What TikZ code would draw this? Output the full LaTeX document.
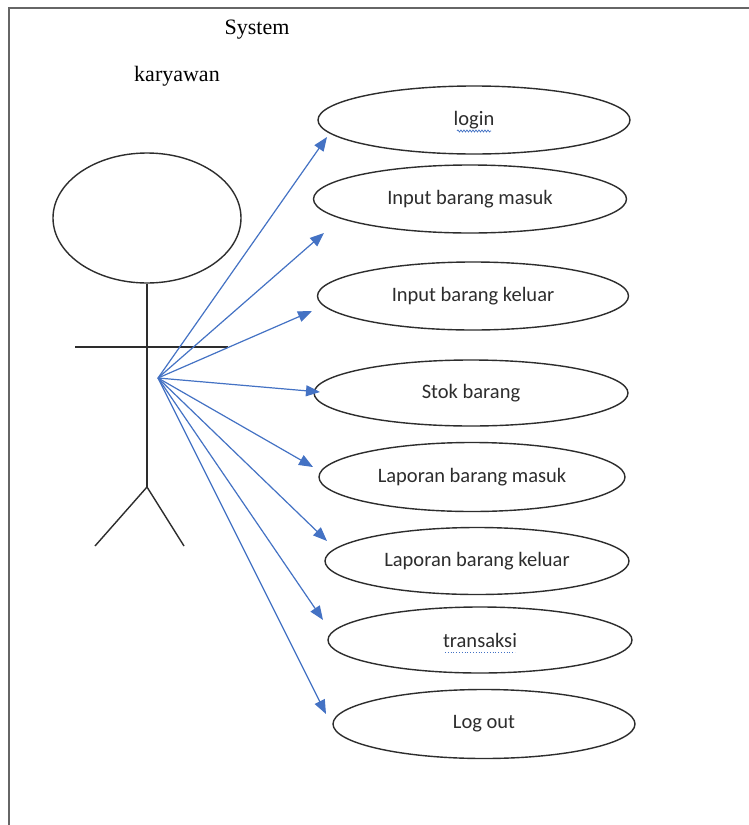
\documentclass[tikz,border=0pt]{standalone}
\usepackage{fontspec}
\setmainfont{Liberation Serif}
\newfontfamily\calibri{Carlito}
\usetikzlibrary{arrows.meta,decorations.pathmorphing,shapes.geometric}
\definecolor{linkblue}{RGB}{68,114,196}
\definecolor{inkgray}{RGB}{45,45,45}
\tikzset{
  usecase/.style={draw=inkgray,line width=1.4pt,ellipse,inner sep=0pt,
    font=\calibri\fontsize{20.5}{24}\selectfont,text=inkgray},
  figure/.style={draw=inkgray,line width=1.4pt},
  assoc/.style={draw=linkblue,line width=1.2pt,
    -{Triangle[length=14pt,width=11pt]}},
  caption/.style={font=\fontsize{22}{26}\selectfont,text=black}
}
\begin{document}
\begin{tikzpicture}[x=1pt,y=-1pt]
\useasboundingbox (0,0) rectangle (749,825);
\fill[white] (0,0) rectangle (749,825);

% frame: top edge and left edge
\draw[figure,draw=gray!80!black,line width=1.6pt] (9,825) -- (9,8) -- (749,8);

% titles
\node[caption] (sys) at (257,30) {System};
\node[caption] (act) at (177,76) {karyawan};

% stick figure
\node[figure,ellipse,minimum width=188pt,minimum height=130pt,inner sep=0pt] (head) at (147,218) {};
\coordinate (hip) at (147,487);
\coordinate (armL) at (75,347);
\coordinate (armR) at (228,347);
\coordinate (footL) at (95,546);
\coordinate (footR) at (184,546);
\coordinate (hand) at (158,378);
\draw[figure] (head.south) -- (hip);
\draw[figure] (armL) -- (armR);
\draw[figure] (footL) -- (hip) -- (footR);

% use cases
\node[usecase,minimum width=312pt,minimum height=68pt] (uc1) at (474,120) {login};
\node[usecase,minimum width=313pt,minimum height=68pt] (uc2) at (470,199) {Input barang masuk};
\node[usecase,minimum width=311pt,minimum height=68pt] (uc3) at (473,296) {Input barang keluar};
\node[usecase,minimum width=314pt,minimum height=66pt] (uc4) at (471,393) {Stok barang};
\node[usecase,minimum width=306pt,minimum height=69pt] (uc5) at (472,477) {Laporan barang masuk};
\node[usecase,minimum width=304pt,minimum height=67pt] (uc6) at (477,561) {Laporan barang keluar};
\node[usecase,minimum width=304pt,minimum height=66pt] (uc7) at (480,640) {transaksi};
\node[usecase,minimum width=302pt,minimum height=69pt] (uc8) at (484,724) {Log out};

% spell-check marks under two labels
\draw[linkblue,line width=0.7pt,decorate,decoration={snake,amplitude=1pt,segment length=3pt}]
  ([xshift=-17pt,yshift=-11pt]uc1.center) -- ([xshift=17pt,yshift=-11pt]uc1.center);
\draw[linkblue,line width=0.8pt,dotted]
  ([xshift=-35pt,yshift=-12pt]uc7.center) -- ([xshift=35pt,yshift=-12pt]uc7.center);

% associations from the actor
\coordinate (t1) at (327,137);
\coordinate (t2) at (324,233);
\coordinate (t3) at (312,311);
\coordinate (t4) at (320,392);
\coordinate (t5) at (313,467);
\coordinate (t6) at (327,541);
\coordinate (t7) at (323,620);
\coordinate (t8) at (326,714);
\foreach \t in {t1,t2,t3,t4,t5,t6,t7,t8}
  \draw[assoc] (hand) -- (\t);
\end{tikzpicture}
\end{document}
